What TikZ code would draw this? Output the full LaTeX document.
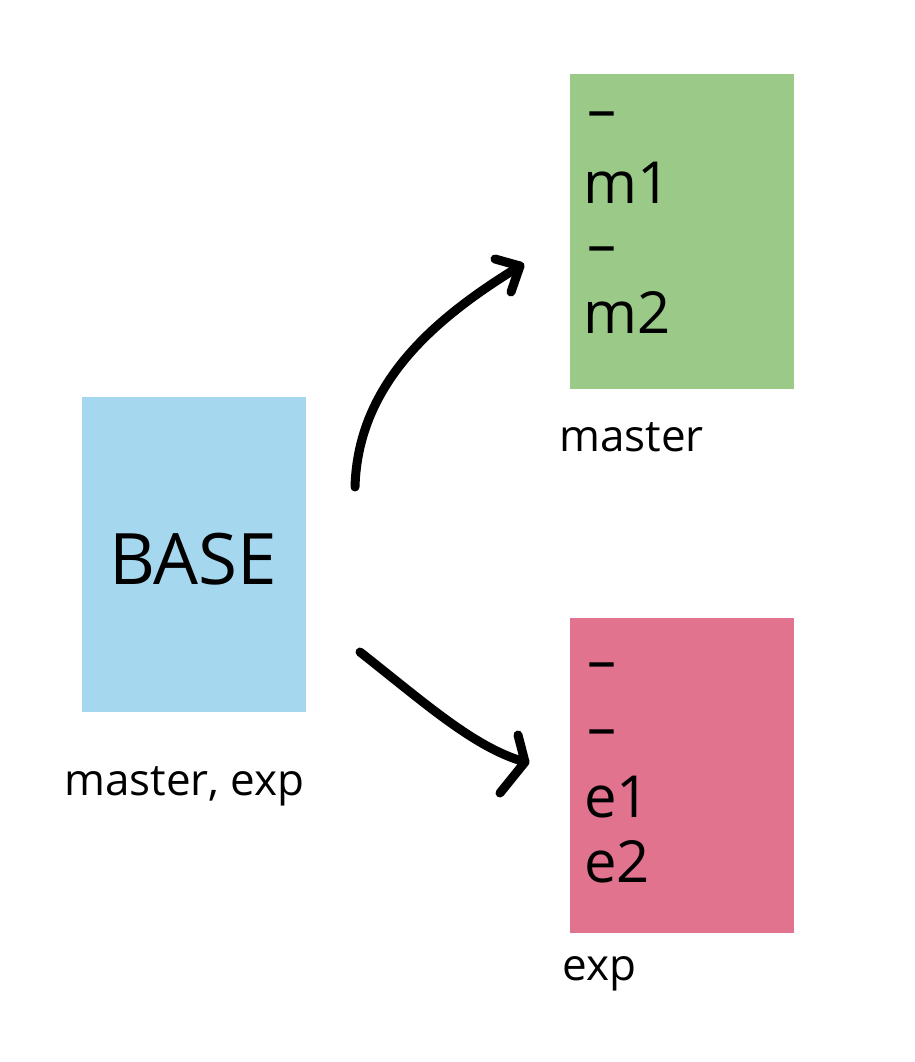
\documentclass[tikz,border=0pt]{standalone}
\usepackage{fontspec}
\setmainfont{Open Sans}
\definecolor{baseblue}{HTML}{A5D8EE}
\definecolor{mgreen}{HTML}{9BC988}
\definecolor{epink}{HTML}{E1738F}
\begin{document}
\begin{tikzpicture}[x=1pt,y=-1pt,
  box/.style={draw=none,inner sep=0pt,minimum width=224pt,minimum height=315pt,anchor=north west},
  big/.style={inner sep=0pt,anchor=base west,font=\fontsize{58}{65}\selectfont},
  lab/.style={inner sep=0pt,anchor=base west,font=\fontsize{44}{50}\selectfont},
  stroke/.style={line width=9pt,line cap=round,line join=round}]
\useasboundingbox[fill=white] (0,0) rectangle (914,1062);
\node[box,fill=baseblue] (base) at (82,397) {};
\node[box,fill=mgreen] (master) at (570,74) {};
\node[box,fill=epink] (exp) at (570,618) {};
\node[inner sep=0pt,anchor=base,font=\fontsize{71}{80}\selectfont] (basetxt) at (193,584) {BASE};
\node[lab] (baselab) at (64,795) {master, exp};
\node[lab] (masterlab) at (559,451) {master};
\node[lab] (explab) at (562,980) {exp};
\node[big] (md1) at (587,130) {–};
\node[big] (m1) at (583,203) {m1};
\node[big] (md2) at (587,264) {–};
\node[big] (m2) at (583,333) {m2};
\node[big] (ed1) at (587,680) {–};
\node[big] (ed2) at (587,747) {–};
\node[big] (e1) at (584,817) {e1};
\node[big] (e2) at (584,882) {e2};
\coordinate (s1) at (355,487);
\coordinate (t1) at (520,266);
\coordinate (a1) at (495,259);
\coordinate (b1) at (511,292);
\coordinate (s2) at (360,652);
\coordinate (t2) at (525,762);
\coordinate (a2) at (518,735);
\coordinate (b2) at (500,793);
\draw[stroke] (s1) .. controls (358,380) and (440,315) .. (t1);
\draw[stroke] (a1) -- (t1) -- (b1);
\draw[stroke] (s2) .. controls (426,704) and (475,748) .. (t2);
\draw[stroke] (a2) -- (t2) -- (b2);
\end{tikzpicture}
\end{document}
